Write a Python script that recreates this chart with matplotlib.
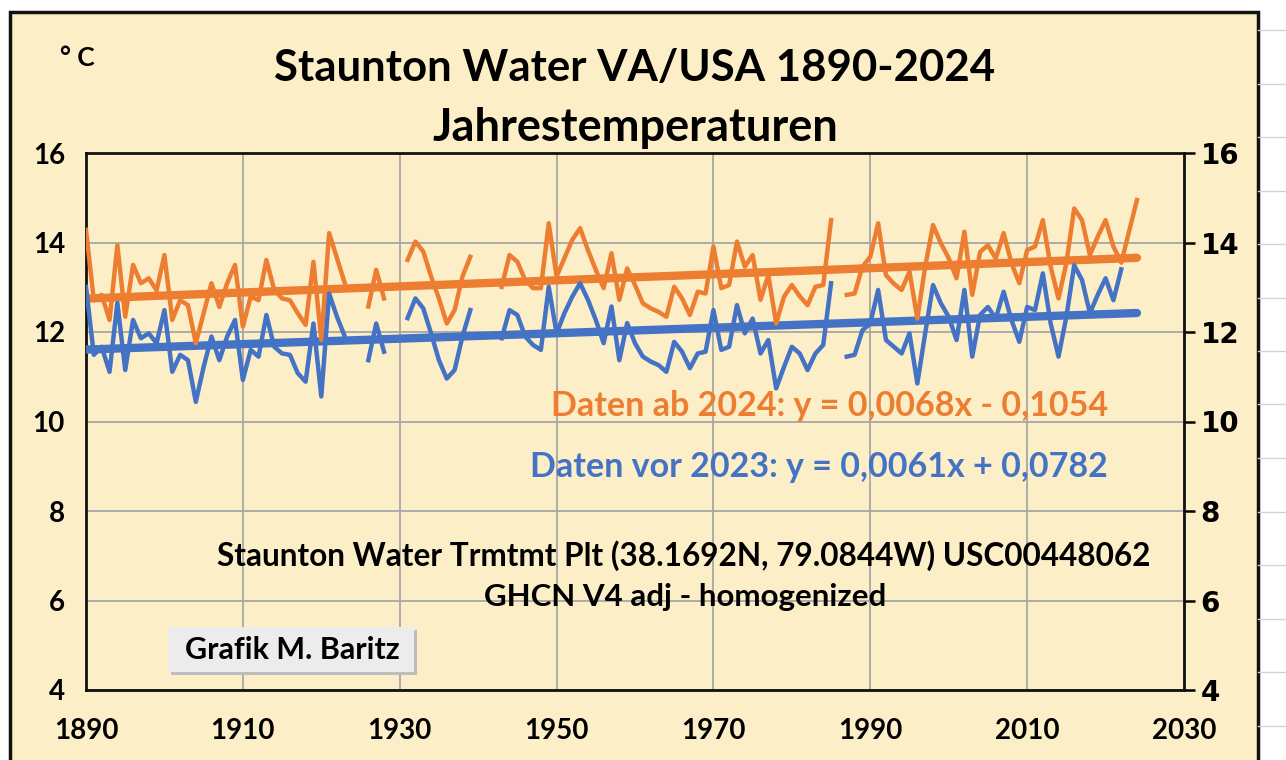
import numpy as np
import matplotlib.pyplot as plt
from matplotlib.patches import Rectangle, FancyBboxPatch
from matplotlib.lines import Line2D

nan = np.nan

# annual mean temperatures, newer data set (orange)
years_new = list(range(1890, 2025))
temp_new = [14.28, 12.71, 12.83, 12.27, 13.94, 12.34, 13.50, 13.09, 13.20, 12.93,
            13.72, 12.27, 12.71, 12.60, 11.75, 12.42, 13.09, 12.56, 13.09, 13.50,
            12.12, 12.79, 12.71, 13.61, 12.94, 12.75, 12.71, 12.42, 12.16, 13.57,
            11.82, 14.21, 13.65, 13.09, nan, nan, 12.57, 13.39, 12.75, nan,
            nan, 13.61, 14.02, 13.80, 13.24, 12.75, 12.19, 12.49, 13.24, 13.68,
            nan, nan, nan, 13.01, 13.72, 13.57, 13.16, 12.98, 12.98, 14.43,
            13.24, 13.65, 14.06, 14.32, 13.83, 13.39, 12.98, 13.76, 12.72, 13.42,
            13.05, 12.64, 12.53, 12.45, 12.34, 13.01, 12.75, 12.38, 12.90, 12.86,
            13.91, 12.98, 13.05, 14.02, 13.46, 13.72, 12.72, 13.27, 12.19, 12.79,
            13.05, 12.80, 12.60, 13.01, 13.05, 14.50, nan, 12.83, 12.86, 13.46,
            13.68, 14.43, 13.27, 13.08, 12.94, 13.35, 12.30, 13.46, 14.39, 13.98,
            13.65, 13.20, 14.24, 12.83, 13.79, 13.94, 13.64, 14.21, 13.54, 13.09,
            13.83, 13.91, 14.50, 13.46, 12.75, 13.54, 14.76, 14.50, 13.72, 14.13,
            14.50, 13.91, 13.55, 14.25, 14.95]

# older data set (blue), up to 2022
years_old = list(range(1890, 2023))
temp_old = [13.01, 11.49, 11.67, 11.11, 12.65, 11.15, 12.27, 11.86, 11.97, 11.75,
            12.49, 11.11, 11.49, 11.37, 10.44, 11.22, 11.90, 11.37, 11.90, 12.27,
            10.93, 11.60, 11.45, 12.38, 11.67, 11.52, 11.49, 11.08, 10.89, 12.19,
            10.56, 12.86, 12.34, 11.90, nan, nan, 11.37, 12.19, 11.56, nan,
            nan, 12.31, 12.75, 12.53, 11.97, 11.37, 10.96, 11.15, 11.90, 12.49,
            nan, nan, nan, 11.86, 12.49, 12.38, 11.90, 11.71, 11.60, 13.01,
            11.97, 12.42, 12.79, 13.09, 12.72, 12.27, 11.75, 12.57, 11.37, 12.20,
            11.75, 11.45, 11.34, 11.26, 11.11, 11.78, 11.56, 11.19, 11.52, 11.56,
            12.49, 11.60, 11.67, 12.60, 11.97, 12.30, 11.52, 11.82, 10.74, 11.22,
            11.67, 11.52, 11.15, 11.52, 11.71, 13.09, nan, 11.45, 11.49, 12.04,
            12.19, 12.94, 11.82, 11.67, 11.52, 11.97, 10.85, 11.97, 13.05, 12.64,
            12.34, 11.82, 12.94, 11.45, 12.38, 12.56, 12.30, 12.90, 12.27, 11.78,
            12.56, 12.49, 13.31, 12.19, 11.45, 12.34, 13.49, 13.16, 12.42, 12.83,
            13.20, 12.71, 13.40]

# linear trends from the chart labels
trend_years = [1890, 2024]
slope_new, icpt_new = 0.0068, -0.1054
slope_old, icpt_old = 0.0061, 0.0782

x_ticks = [1890, 1910, 1930, 1950, 1970, 1990, 2010, 2030]
y_ticks = [4, 6, 8, 10, 12, 14, 16]

ORANGE = '#ED7D31'
BLUE = '#4472C4'
BG = '#FCEFC8'
W, H = 1286, 760

fig = plt.figure(figsize=(W / 100, H / 100), dpi=100, facecolor='white')

# spreadsheet cells behind the chart
for yy in np.arange(30, H, 53.5):
    fig.add_artist(Line2D([1258 / W, 1], [1 - yy / H, 1 - yy / H], color='#D4D4D4', lw=1))
fig.add_artist(Rectangle((10 / W, -0.01), 1248 / W, 1 - 12 / H + 0.01, facecolor=BG,
                         edgecolor='#111111', lw=2.5, zorder=0))

ax = fig.add_axes([86 / W, 1 - 690 / H, 1098 / W, 537 / H])
ax.set_facecolor(BG)

t_new = np.array(trend_years) * slope_new + icpt_new
t_old = np.array(trend_years) * slope_old + icpt_old
ax.plot(trend_years, t_new, color=ORANGE, lw=6, solid_capstyle='round', zorder=3)
ax.plot(trend_years, t_old, color=BLUE, lw=6, solid_capstyle='round', zorder=3)
ax.plot(years_new, temp_new, color=ORANGE, lw=3.2, zorder=4)
ax.plot(years_old, temp_old, color=BLUE, lw=3.2, zorder=4)

ax.set_xlim(1890, 2030)
ax.set_ylim(4, 16)
ax.set_xticks(x_ticks)
ax.set_yticks(y_ticks)
ax.grid(True, color='#A6A6A6', lw=1.3)
ax.set_axisbelow(True)
for s in ax.spines.values():
    s.set_color('#111111')
    s.set_linewidth(2)

ax.tick_params(axis='x', length=0, pad=20)
ax.tick_params(axis='y', left=False, right=True, labelright=True, direction='out',
               length=8, width=1.8, pad=4)
for lab in ax.get_xticklabels():
    lab.set_fontfamily('Lato')
    lab.set_fontweight('bold')
    lab.set_fontsize(20)
for t in ax.yaxis.get_major_ticks():
    t.label1.set_fontfamily('Lato')
    t.label1.set_fontweight('bold')
    t.label1.set_fontsize(20)
    t.label1.set_x(-0.004)
    t.label2.set_fontfamily('DejaVu Sans')
    t.label2.set_fontweight('bold')
    t.label2.set_fontsize(20)

def ftext(x, y, s, **kw):
    fig.text(x / W, 1 - y / H, s, family='Lato', fontweight='bold', **kw)

ftext(60, 58, '° C', fontsize=19, ha='left', va='center')
ftext(635, 68, 'Staunton Water VA/USA 1890-2024', fontsize=31.5, ha='center', va='center')
ftext(635, 128, 'Jahrestemperaturen', fontsize=32.5, ha='center', va='center')
ftext(1108, 406, 'Daten ab 2024: y = 0,0068x - 0,1054', fontsize=24.5, color=ORANGE,
      ha='right', va='center')
ftext(1108, 467, 'Daten vor 2023: y = 0,0061x + 0,0782', fontsize=24.5, color=BLUE,
      ha='right', va='center')
ftext(684, 556, 'Staunton Water Trmtmt Plt (38.1692N, 79.0844W) USC00448062', fontsize=22.7,
      ha='center', va='center')
ftext(685, 597, 'GHCN V4 adj - homogenized', fontsize=22.5, ha='center', va='center')

fig.add_artist(FancyBboxPatch((171 / W, 1 - 675 / H), 246 / W, 45 / H,
                              boxstyle='square,pad=0', facecolor='#BDBDBD', edgecolor='none'))
fig.add_artist(FancyBboxPatch((168 / W, 1 - 672 / H), 246 / W, 45 / H,
                              boxstyle='square,pad=0', facecolor='#ECECEC', edgecolor='none'))
ftext(292, 650, 'Grafik M. Baritz', fontsize=22, ha='center', va='center')

fig.savefig('out.png', dpi=100, facecolor='white')
